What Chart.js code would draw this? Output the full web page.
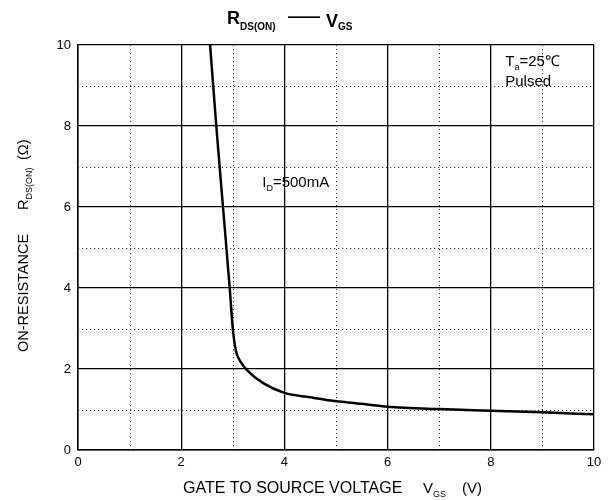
<!DOCTYPE html>
<html>
<head>
<meta charset="utf-8">
<script src="https://cdn.jsdelivr.net/npm/chart.js@4"></script>
<style>
  html, body { margin: 0; padding: 0; background: #fff; }
  #wrap { width: 612px; height: 500px; }
</style>
</head>
<body>
<div id="wrap"><canvas id="c" width="612" height="500"></canvas></div>
<script>
// gate voltage (V) and on-resistance (ohm)
const vgs = [2.56, 2.68, 2.81, 2.94, 3.0, 3.06, 3.15, 3.27, 3.59, 4.0, 4.5, 4.9, 5.5, 6.0, 7.0, 8.0, 9.0, 10];
const rds = [10, 8, 6, 4, 3, 2.45, 2.18, 1.98, 1.65, 1.41, 1.3, 1.22, 1.14, 1.07, 1.01, 0.97, 0.93, 0.88];

// tick labels
const xTicks = [0, 2, 4, 6, 8, 10];
const yTicks = [0, 2, 4, 6, 8, 10];
const minorTicks = [1, 3, 5, 7, 9];

const FONT = "'Liberation Sans', Arial, sans-serif";

// draws text made of pieces, some of them subscripts
function drawParts(ctx, parts, x, y) {
  let cx = x;
  parts.forEach(p => {
    ctx.font = p.font;
    ctx.fillText(p.t, cx, y + (p.dy || 0));
    cx += ctx.measureText(p.t).width;
  });
}

const dottedGrid = {
  id: "dottedGrid",
  beforeDatasetsDraw(chart) {
    const { ctx, chartArea: a, scales } = chart;
    ctx.save();
    ctx.strokeStyle = "#333";
    ctx.lineWidth = 1;
    ctx.setLineDash([1.2, 2.8]);
    minorTicks.forEach(v => {
      const px = Math.round(scales.x.getPixelForValue(v)) + 0.5;
      ctx.beginPath();
      ctx.moveTo(px, a.top);
      ctx.lineTo(px, a.bottom);
      ctx.stroke();
      const py = Math.round(scales.y.getPixelForValue(v)) + 0.5;
      ctx.beginPath();
      ctx.moveTo(a.left, py);
      ctx.lineTo(a.right, py);
      ctx.stroke();
    });
    ctx.restore();
  }
};

const labels = {
  id: "labels",
  afterDraw(chart) {
    const { ctx, scales } = chart;
    ctx.save();
    ctx.fillStyle = "#000";
    ctx.textBaseline = "alphabetic";
    ctx.textAlign = "left";

    // title
    drawParts(ctx, [
      { t: "R", font: "bold 18px " + FONT },
      { t: "DS(ON)", font: "bold 10px " + FONT, dy: 6 }
    ], 227, 24);
    drawParts(ctx, [{ t: "——", font: "bold 16px " + FONT }], 288, 22);
    drawParts(ctx, [
      { t: "V", font: "bold 18px " + FONT },
      { t: "GS", font: "bold 10px " + FONT, dy: 3 }
    ], 326, 27);

    // x axis title
    drawParts(ctx, [{ t: "GATE TO SOURCE VOLTAGE", font: "16px " + FONT }], 183, 493);
    drawParts(ctx, [
      { t: "V", font: "15px " + FONT },
      { t: "GS", font: "9px " + FONT, dy: 4 }
    ], 423, 493);
    drawParts(ctx, [{ t: "(V)", font: "15px " + FONT }], 462, 493);

    // y axis title, rotated
    ctx.save();
    ctx.translate(28, 352);
    ctx.rotate(-Math.PI / 2);
    drawParts(ctx, [{ t: "ON-RESISTANCE", font: "14.5px " + FONT }], 0, 0);
    drawParts(ctx, [
      { t: "R", font: "14.5px " + FONT },
      { t: "DS(ON)", font: "9px " + FONT, dy: 4 }
    ], 142, 0);
    drawParts(ctx, [{ t: "(Ω)", font: "14.5px " + FONT }], 192, 0);
    ctx.restore();

    // notes inside the plot
    const tx = scales.x.getPixelForValue(8.28);
    drawParts(ctx, [
      { t: "T", font: "15px " + FONT },
      { t: "a", font: "9px " + FONT, dy: 4 },
      { t: "=25℃", font: "15px " + FONT }
    ], tx, scales.y.getPixelForValue(9.48));
    drawParts(ctx, [{ t: "Pulsed", font: "15px " + FONT }], tx, scales.y.getPixelForValue(8.98));
    drawParts(ctx, [
      { t: "I", font: "15px " + FONT },
      { t: "D", font: "9px " + FONT, dy: 4 },
      { t: "=500mA", font: "15px " + FONT }
    ], scales.x.getPixelForValue(3.57), scales.y.getPixelForValue(6.5));

    ctx.restore();
  }
};

new Chart(document.getElementById("c"), {
  type: "scatter",
  data: {
    datasets: [{
      data: vgs.map((v, i) => ({ x: v, y: rds[i] })),
      showLine: true,
      borderColor: "#000",
      borderWidth: 2.5,
      pointRadius: 0,
      cubicInterpolationMode: "monotone"
    }]
  },
  options: {
    responsive: false,
    animation: false,
    layout: { padding: { top: 45, right: 18, left: 0, bottom: 0 } },
    plugins: { legend: { display: false }, tooltip: { enabled: false } },
    scales: {
      x: {
        type: "linear",
        min: 0,
        max: 10,
        afterBuildTicks: s => { s.ticks = xTicks.map(v => ({ value: v })); },
        afterFit: s => { s.height = 50; },
        ticks: { color: "#000", font: { size: 13, family: FONT }, padding: 5, maxRotation: 0 },
        grid: { color: "#000", lineWidth: 1.3, drawTicks: false },
        border: { color: "#000", width: 1.5 }
      },
      y: {
        min: 0,
        max: 10,
        afterBuildTicks: s => { s.ticks = yTicks.map(v => ({ value: v })); },
        afterFit: s => { s.width = 78; },
        ticks: { color: "#000", font: { size: 13, family: FONT }, padding: 7 },
        grid: { color: "#000", lineWidth: 1.3, drawTicks: false },
        border: { color: "#000", width: 1.5 }
      }
    }
  },
  plugins: [dottedGrid, labels]
});
</script>
</body>
</html>
